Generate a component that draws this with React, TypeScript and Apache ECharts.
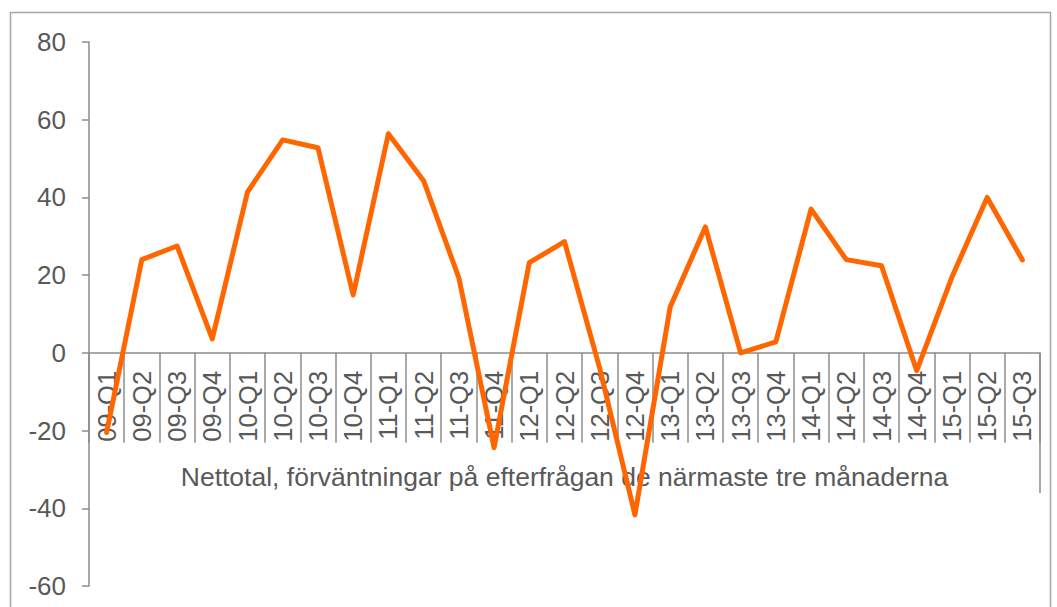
import React, { useEffect, useRef } from "react";
import * as echarts from "echarts";

const categories = [
  "09-Q1", "09-Q2", "09-Q3", "09-Q4",
  "10-Q1", "10-Q2", "10-Q3", "10-Q4",
  "11-Q1", "11-Q2", "11-Q3", "11-Q4",
  "12-Q1", "12-Q2", "12-Q3", "12-Q4",
  "13-Q1", "13-Q2", "13-Q3", "13-Q4",
  "14-Q1", "14-Q2", "14-Q3", "14-Q4",
  "15-Q1", "15-Q2", "15-Q3",
];

const values = [
  -20.5, 24, 27.5, 3.6,
  41.4, 54.8, 52.8, 14.9,
  56.4, 44.3, 19.3, -24.4,
  23.2, 28.6, -4, -41.7,
  11.8, 32.4, 0, 2.8,
  37, 24, 22.4, -4.6,
  19.5, 40, 23.9,
];

const categoryTitle = "Nettotal, förväntningar på efterfrågan de närmaste tre månaderna";

const yMin = -60;
const yMax = 80;
const yInterval = 20;

export default function App() {
  const ref = useRef<HTMLDivElement>(null);

  useEffect(() => {
    if (!ref.current) return;
    const chart = echarts.init(ref.current, null, { renderer: "svg" });
    const axisColor = "#8c8c8c";
    const textColor = "#595959";
    const font = "'Liberation Sans', Arial, sans-serif";
    const gridTop = 42;
    const gridBottomPx = 586;
    const plotH = gridBottomPx - gridTop;
    const zeroOffset = -((0 - yMin) / (yMax - yMin)) * plotH;
    chart.setOption({
      animation: false,
      backgroundColor: "#ffffff",
      grid: {
        left: 89,
        top: gridTop,
        right: 17,
        bottom: 607 - gridBottomPx,
        containLabel: false,
        outerBoundsMode: "none",
      },
      xAxis: {
        type: "category",
        data: categories,
        position: "bottom",
        offset: zeroOffset,
        boundaryGap: true,
        axisLine: { show: true, onZero: false, lineStyle: { color: axisColor, width: 1.5 } },
        axisTick: {
          show: true,
          interval: 0,
          length: 90,
          lineStyle: { color: axisColor, width: 1.5 },
        },
        axisLabel: {
          interval: 0,
          rotate: 90,
          margin: 18,
          fontSize: 25.5,
          color: textColor,
          fontFamily: font,
          hideOverlap: false,
        },
        splitLine: { show: false },
      },
      yAxis: {
        type: "value",
        min: yMin,
        max: yMax,
        interval: yInterval,
        axisLine: { show: true, lineStyle: { color: axisColor, width: 1.5 } },
        axisTick: { show: true, length: 7, lineStyle: { color: axisColor, width: 1.5 } },
        axisLabel: { margin: 23, fontSize: 26, color: textColor, fontFamily: font },
        splitLine: { show: false },
      },
      series: [
        {
          type: "line",
          data: values,
          symbol: "none",
          z: 5,
          lineStyle: { color: "#ff6600", width: 5, cap: "round", join: "round" },
        },
      ],
      graphic: [
        {
          type: "rect",
          shape: { x: 10.5, y: 12.5, width: 1040, height: 700 },
          style: { fill: "none", stroke: "#a6a6a6", lineWidth: 1.5 },
          silent: true,
          z: -10,
        },
        {
          type: "line",
          shape: { x1: 1040, y1: 353, x2: 1040, y2: 493 },
          style: { stroke: axisColor, lineWidth: 1.5 },
          silent: true,
        },
        {
          type: "text",
          x: 564.5,
          y: 477,
          style: {
            text: categoryTitle,
            fontSize: 26.5,
            fontFamily: font,
            fill: textColor,
            align: "center",
            verticalAlign: "middle",
          },
          silent: true,
        },
      ],
    });
    return () => chart.dispose();
  }, []);

  return (
    <div
      ref={ref}
      style={{ position: "fixed", left: 0, top: 0, width: 1057, height: 607 }}
    />
  );
}
